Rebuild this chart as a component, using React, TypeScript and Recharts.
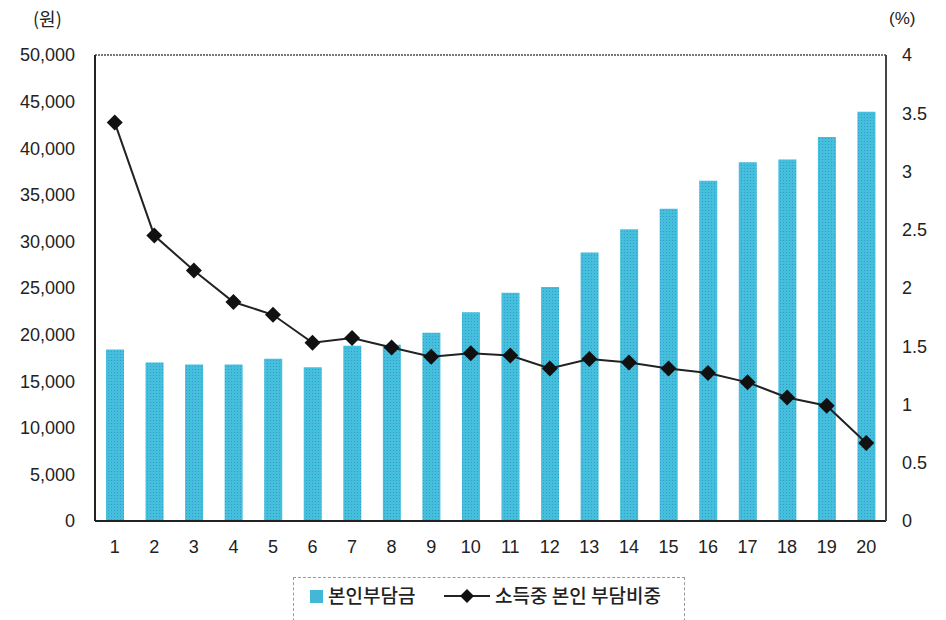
import React from "react";
import {
  ComposedChart,
  Bar,
  Line,
  XAxis,
  YAxis,
  ReferenceLine,
} from "recharts";

const categories = ["1", "2", "3", "4", "5", "6", "7", "8", "9", "10", "11", "12", "13", "14", "15", "16", "17", "18", "19", "20"];
const burden = [18400, 17000, 16800, 16800, 17400, 16500, 18800, 18900, 20200, 22400, 24500, 25100, 28800, 31300, 33500, 36500, 38500, 38800, 41200, 43900];
const burdenShare = [3.42, 2.45, 2.15, 1.88, 1.77, 1.53, 1.57, 1.49, 1.41, 1.44, 1.42, 1.31, 1.39, 1.36, 1.31, 1.27, 1.19, 1.06, 0.99, 0.67];
const leftTicks = [0, 5000, 10000, 15000, 20000, 25000, 30000, 35000, 40000, 45000, 50000];
const rightTicks = [0, 0.5, 1, 1.5, 2, 2.5, 3, 3.5, 4];

const data = categories.map((c, i) => ({ name: c, burden: burden[i], share: burdenShare[i] }));

const FONT = "'Liberation Sans', Arial, sans-serif";
const KFONT = "'Noto Sans CJK KR', sans-serif";
const TEXT = "#222";
const BAR = "#40b8d6";

function Diamond(props: any) {
  const { cx, cy } = props;
  if (cx == null || cy == null) return null;
  const r = 8;
  return (
    <polygon
      points={`${cx},${cy - r} ${cx + r},${cy} ${cx},${cy + r} ${cx - r},${cy}`}
      fill="#111"
    />
  );
}

export default function App() {
  return (
    <div style={{ position: "fixed", left: 0, top: 0, width: 946, height: 620, background: "#fff", overflow: "hidden" }}>
      <ComposedChart
        width={946}
        height={620}
        data={data}
        margin={{ top: 55, right: 0, left: 0, bottom: 0 }}
        barCategoryGap={0}
      >
        <defs>
          <pattern id="barDots" width="3" height="3" patternUnits="userSpaceOnUse">
            <rect width="3" height="3" fill="#44c0dc" />
            <rect width="1" height="1" fill="#3a98cc" />
          </pattern>
        </defs>
        <XAxis
          dataKey="name"
          height={99}
          axisLine={{ stroke: "#222", strokeWidth: 2 }}
          tickLine={false}
          tickMargin={13}
          tick={{ fontSize: 18, fill: TEXT, fontFamily: FONT }}
          interval={0}
        />
        <YAxis
          yAxisId="left"
          width={95}
          domain={[0, 50000]}
          ticks={leftTicks}
          interval={0}
          axisLine={{ stroke: "#222", strokeWidth: 2 }}
          tickLine={false}
          tickMargin={14}
          tickFormatter={(v: number) => v.toLocaleString("en-US")}
          tick={{ fontSize: 18, fill: TEXT, fontFamily: FONT }}
        />
        <YAxis
          yAxisId="right"
          orientation="right"
          width={60}
          domain={[0, 4]}
          ticks={rightTicks}
          interval={0}
          axisLine={{ stroke: "#444", strokeWidth: 2 }}
          tickLine={false}
          tickMargin={10}
          tick={{ fontSize: 18, fill: TEXT, fontFamily: FONT }}
        />
        <ReferenceLine yAxisId="left" y={50000} stroke="#777" strokeDasharray="2 1" strokeWidth={2} />
        <Bar
          yAxisId="left"
          dataKey="burden"
          name="본인부담금"
          fill="url(#barDots)"
          barSize={18}
          isAnimationActive={false}
        />
        <Line
          yAxisId="right"
          dataKey="share"
          name="소득중 본인 부담비중"
          type="linear"
          stroke="#222"
          strokeWidth={2}
          dot={<Diamond />}
          activeDot={false}
          isAnimationActive={false}
        />
      </ComposedChart>

      <div style={{ position: "absolute", left: 33, top: 5, fontSize: 18, color: TEXT, fontFamily: KFONT }}>(원)</div>
      <div style={{ position: "absolute", left: 889, top: 9, fontSize: 17, color: TEXT, fontFamily: FONT }}>(%)</div>

      <div
        style={{
          position: "absolute",
          left: 293,
          top: 577,
          width: 392,
          height: 60,
          border: "1px dashed #999",
          boxSizing: "border-box",
          fontFamily: KFONT,
          fontSize: 19,
          fontWeight: 500,
          color: "#222",
        }}
      >
        <div style={{ position: "absolute", left: 16, top: 12, width: 13, height: 13, backgroundColor: BAR }} />
        <div style={{ position: "absolute", left: 34, top: 2, lineHeight: "30px" }}>본인부담금</div>
        <svg style={{ position: "absolute", left: 150, top: 8 }} width={46} height={20}>
          <line x1={0} y1={10} x2={46} y2={10} stroke="#222" strokeWidth={2} />
          <polygon points="23,3 30,10 23,17 16,10" fill="#111" />
        </svg>
        <div style={{ position: "absolute", left: 201, top: 2, lineHeight: "30px" }}>소득중 본인 부담비중</div>
      </div>
    </div>
  );
}
